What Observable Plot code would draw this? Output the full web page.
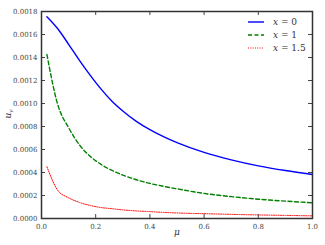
<!DOCTYPE html>
<html><head><meta charset="utf-8">
<script src="https://cdn.jsdelivr.net/npm/d3@7"></script>
<script src="https://cdn.jsdelivr.net/npm/@observablehq/plot@0.6"></script>
<style>
body{margin:0;background:#fff;}
#wrap{position:relative;width:325px;height:245px;font-family:"DejaVu Serif",serif;}
.ylab{position:absolute;left:4px;top:108px;transform:rotate(-90deg);transform-origin:center;font-size:9px;color:#333;}
.leg{position:absolute;left:248px;top:15px;font-size:9px;color:#333;}
.leg div{height:13.2px;display:flex;align-items:center;}
.leg svg{margin-right:9px;}
</style></head>
<body><div id="wrap"></div>
<script>
const mu = [0.02,0.06,0.10,0.14,0.18,0.22,0.26,0.30,0.35,0.40,0.45,0.50,0.60,0.70,0.80,0.90,1.00];
const u0 = [0.001755,0.00165,0.001515,0.001375,0.001245,0.001125,0.00102,0.000935,0.000845,0.000772,0.000712,0.00066,0.000575,0.00051,0.000458,0.000417,0.000383];
const u1 = [0.001426,0.00099,0.00079,0.00064,0.00054,0.00047,0.000418,0.000378,0.000337,0.000305,0.00028,0.000258,0.000218,0.00019,0.000168,0.000151,0.000137];
const u15 = [0.00045,0.000245,0.00018,0.00014,0.000113,0.000095,0.000085,0.000075,0.000066,0.00006,0.000053,0.000048,0.000042,0.000036,0.000031,0.000027,0.000023];
const seriesNames = ["x = 0","x = 1","x = 1.5"];
const seriesColors = ["#0000ff","#008000","#ff0000"];
const xTicks = [0,0.2,0.4,0.6,0.8,1.0];
const yTicks = d3.range(0,10).map(i=>i*0.0002);

const rows = (ys) => mu.map((m,i)=>({mu:m,u:ys[i]}));
const tickStroke = "#444";
const chart = Plot.plot({
  width:325,height:245,
  marginLeft:41,marginRight:13,marginTop:11,marginBottom:27,
  x:{domain:[0,1]},
  y:{domain:[0,0.0018]},
  style:{fontFamily:"DejaVu Serif, serif",fontSize:"7px",color:"#444",background:"#fff"},
  marks:[
    Plot.line(rows(u0),{x:"mu",y:"u",stroke:seriesColors[0],strokeWidth:1.4,curve:"monotone-x"}),
    Plot.line(rows(u1),{x:"mu",y:"u",stroke:seriesColors[1],strokeWidth:1.4,strokeDasharray:"4,2.5",curve:"monotone-x"}),
    Plot.line(rows(u15),{x:"mu",y:"u",stroke:seriesColors[2],strokeWidth:1,strokeDasharray:"1,1.3",curve:"monotone-x"}),
    Plot.axisX(xTicks,{tickSize:0,tickPadding:6,tickFormat:d3.format(".1f"),label:null}),
    Plot.axisY(yTicks,{tickSize:0,tickPadding:4,tickFormat:d3.format(".4f"),label:null}),
    Plot.tickX(xTicks,{x:d=>d,insetTop:203,stroke:tickStroke}),
    Plot.tickX(xTicks,{x:d=>d,insetBottom:203,stroke:tickStroke}),
    Plot.tickY(yTicks,{y:d=>d,insetRight:267,stroke:tickStroke}),
    Plot.tickY(yTicks,{y:d=>d,insetLeft:267,stroke:tickStroke}),
    Plot.frame({stroke:"#333",strokeWidth:1.5}),
    Plot.text(["μ"],{frameAnchor:"bottom",dy:16,fontSize:9,fontStyle:"italic",fill:"#333"})
  ]
});
const wrap = document.getElementById("wrap");
wrap.appendChild(chart);
const yl = document.createElement("div");
yl.className="ylab";
yl.innerHTML='<i>u</i><sub style="font-size:6px"><i>v</i></sub>';
wrap.appendChild(yl);
const leg = document.createElement("div");
leg.className="leg";
const dashes=["","4,2.5","1,1.3"], widths=[1.4,1.4,1];
seriesNames.forEach((n,i)=>{
  const [a,b]=n.split(" = ");
  leg.innerHTML += `<div><svg width="16" height="4"><line x1="0" y1="2" x2="16" y2="2" stroke="${seriesColors[i]}" stroke-width="${widths[i]}" stroke-dasharray="${dashes[i]}"/></svg><span><i>${a}</i> = ${b}</span></div>`;
});
wrap.appendChild(leg);
</script></body></html>
